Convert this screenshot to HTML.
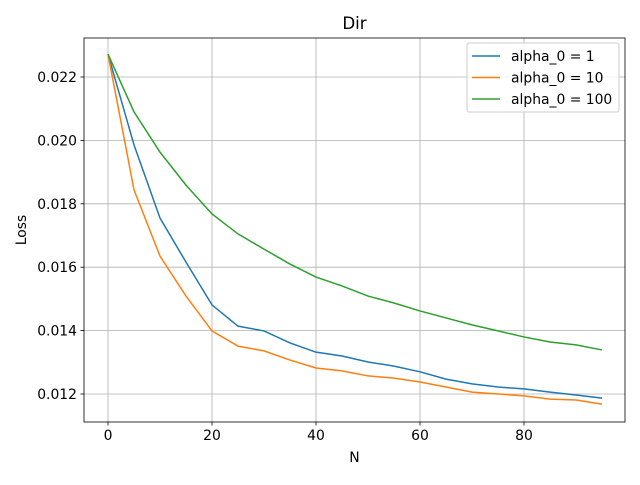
<!DOCTYPE html>
<html><head><meta charset="utf-8"><style>
body{margin:0;background:#fff;}
svg{font-family:"DejaVu Sans","Liberation Sans",sans-serif;}
</style></head><body>
<svg id="chart" width="640" height="480" xmlns="http://www.w3.org/2000/svg"></svg>
<script>
const xs=[0,5,10,15,20,25,30,35,40,45,50,55,60,65,70,75,80,85,90,95];
const s1=[0.02272,0.01986,0.01755,0.01616,0.01481,0.01414,0.01399,0.01361,0.01332,0.0132,0.01301,0.01288,0.0127,0.01247,0.01232,0.01222,0.01216,0.01206,0.01197,0.01187];
const s2=[0.02272,0.01844,0.01635,0.01509,0.01399,0.01351,0.01336,0.01307,0.01282,0.01273,0.01257,0.0125,0.01238,0.01222,0.01206,0.012,0.01194,0.01184,0.01181,0.01168];
const s3=[0.02272,0.0209,0.01963,0.01859,0.01768,0.01705,0.01657,0.0161,0.01569,0.01541,0.01509,0.01487,0.01462,0.0144,0.01418,0.01399,0.0138,0.01364,0.01355,0.01339];
const names=["alpha_0 = 1","alpha_0 = 10","alpha_0 = 100"];
const xTicks=[0,20,40,60,80];
const yTicks=[0.012,0.014,0.016,0.018,0.020,0.022];
const colors=["#1f77b4","#ff7f0e","#2ca02c"];
const L=84,R=625,T=38,B=422;
const X=v=>108+v*5.2;
const Y=v=>394-(v-0.012)*31700;
const svg=document.getElementById('chart');
const NS="http://www.w3.org/2000/svg";
function mk(tag,attrs,parent){const e=document.createElementNS(NS,tag);for(const k in attrs)e.setAttribute(k,attrs[k]);(parent||svg).appendChild(e);return e;}
xTicks.forEach(t=>{
 const g=mk('line',{x1:X(t),x2:X(t),y1:T,y2:B,stroke:'#b0b0b0','stroke-width':0.8});
 
 
 mk('line',{x1:X(t),x2:X(t),y1:B,y2:B+3.5,stroke:'#000','stroke-width':0.8});
 const tx=mk('text',{x:X(t),y:B+18,'text-anchor':'middle','font-size':13.9});
 tx.textContent=t;
 
 
});
yTicks.forEach(t=>{
 const g=mk('line',{x1:L,x2:R,y1:Y(t),y2:Y(t),stroke:'#b0b0b0','stroke-width':0.8});
 
 
 mk('line',{x1:L-3.5,x2:L,y1:Y(t),y2:Y(t),stroke:'#000','stroke-width':0.8});
 const tx=mk('text',{x:L-7,y:Y(t)+5,'text-anchor':'end','font-size':13.9});
 tx.textContent=t.toFixed(3);
 
 
});
[s1,s2,s3].forEach((s,i)=>{
 const p=mk('polyline',{points:s.map((v,j)=>X(xs[j])+','+Y(v)).join(' '),fill:'none',stroke:colors[i],'stroke-width':1.5});
 
 
});
const fr=mk('rect',{x:L,y:T,width:R-L,height:B-T,fill:'none',stroke:'#000','stroke-width':0.8});


const ti=mk('text',{x:(L+R)/2,y:T-9,'text-anchor':'middle','font-size':16.7});
ti.textContent='Dir';


const xl=mk('text',{x:(L+R)/2,y:462,'text-anchor':'middle','font-size':13.9});
xl.textContent='N';


const yl=mk('text',{x:0,y:0,'text-anchor':'middle','font-size':13.9,transform:'translate(26,230) rotate(-90)'});
yl.textContent='Loss';


const lg=mk('rect',{x:467,y:43,width:152,height:69,fill:'#fff','fill-opacity':0.8,stroke:'#ccc',rx:2});


names.forEach((n,i)=>{
 const y=56+i*21.5;
 mk('line',{x1:472,x2:500,y1:y,y2:y,stroke:colors[i],'stroke-width':1.5});
 const t=mk('text',{x:511,y:y+5,'font-size':13.9});
 t.textContent=n;
 
 
});
</script>
</body></html>
